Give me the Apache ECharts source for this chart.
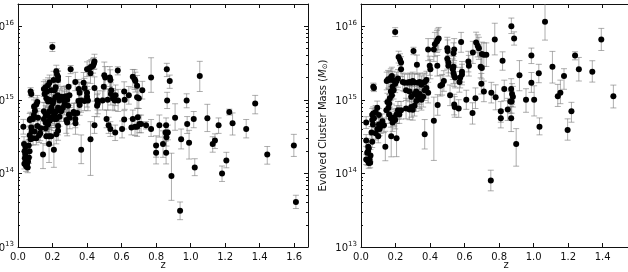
<!DOCTYPE html>
<html>
<head>
<meta charset="utf-8">
<script src="https://cdn.jsdelivr.net/npm/echarts@6/dist/echarts.min.js"></script>
<style>
html,body{margin:0;padding:0;background:#fff;overflow:hidden;}
#c{width:628px;height:272px;}
</style>
</head>
<body>
<div id="c"></div>
<script>
// ---- data: [z, mass (M_sun), error down (dex), error up (dex)] ----
const observedClusters = [
[0.199,5.2e15,0.06,0.06],[0.771,2.0e15,0.20,0.27],[0.862,2.6e15,0.10,0.08],[0.879,1.8e15,0.10,0.08],
[1.053,2.1e15,0.21,0.20],[0.864,9.8e14,0.11,0.11],[0.977,9.8e14,0.10,0.09],[0.910,5.7e14,0.17,0.19],
[1.018,5.5e14,0.12,0.10],[1.097,5.6e14,0.18,0.19],[1.224,6.8e14,0.04,0.04],[1.243,4.8e14,0.16,0.14],
[1.162,4.5e14,0.11,0.10],[1.322,4.0e14,0.12,0.13],[1.374,8.9e14,0.14,0.11],[0.980,4.7e14,0.13,0.10],
[0.819,4.5e14,0.16,0.14],[0.771,4.0e14,0.10,0.13],[0.742,4.5e14,0.05,0.05],[0.858,4.5e14,0.10,0.10],
[0.855,3.6e14,0.12,0.10],[0.868,3.6e14,0.10,0.10],[0.860,3.1e14,0.12,0.10],[0.840,2.5e14,0.18,0.18],
[0.800,2.4e14,0.16,0.13],[0.800,1.9e14,0.15,0.12],[0.858,1.9e14,0.15,0.17],[0.945,2.9e14,0.13,0.14],
[0.991,2.6e14,0.22,0.17],[0.889,9.2e13,0.33,0.31],[0.939,3.1e13,0.12,0.12],[1.024,1.2e14,0.11,0.12],
[1.128,2.5e14,0.11,0.10],[1.141,2.8e14,0.11,0.09],[1.182,1.0e14,0.11,0.10],[1.207,1.5e14,0.10,0.11],
[1.444,1.8e14,0.13,0.11],[1.598,2.4e14,0.15,0.15],[1.610,4.1e13,0.09,0.09],
[0.443,3.3e15,0.10,0.10],[0.440,3.1e15,0.08,0.08],[0.435,2.9e15,0.10,0.10],[0.425,2.8e15,0.12,0.10],
[0.415,2.7e15,0.10,0.10],[0.400,2.6e15,0.10,0.10],[0.420,2.3e15,0.14,0.12],[0.305,2.6e15,0.06,0.05],
[0.578,2.5e15,0.06,0.05],[0.500,2.15e15,0.13,0.18],[0.505,2.0e15,0.15,0.15],[0.532,2.0e15,0.12,0.15],
[0.535,1.85e15,0.16,0.14],[0.665,2.05e15,0.15,0.10],[0.675,1.9e15,0.14,0.13],[0.680,1.8e15,0.15,0.12],
[0.690,1.55e15,0.14,0.14],[0.720,1.35e15,0.12,0.12],[0.497,1.5e15,0.15,0.15],[0.443,1.45e15,0.18,0.15],
[0.615,1.3e15,0.14,0.13],[0.618,1.0e15,0.13,0.13],[0.540,1.35e15,0.14,0.14],[0.538,1.2e15,0.15,0.15],
[0.550,1.05e15,0.16,0.13],[0.565,1.15e15,0.14,0.14],[0.560,9.8e14,0.14,0.14],[0.642,1.15e15,0.12,0.12],
[0.690,1.08e15,0.15,0.15],[0.700,1.05e15,0.14,0.14],[0.460,9.8e14,0.13,0.13],[0.462,8.9e14,0.14,0.14],
[0.458,8.3e14,0.15,0.15],[0.490,9.8e14,0.13,0.13],[0.580,9.8e14,0.15,0.15],[0.520,1.0e15,0.14,0.14],
[0.405,9.8e14,0.14,0.15],[0.385,9.6e14,0.13,0.14],[0.365,9.8e14,0.16,0.16],[0.350,9.6e14,0.15,0.15],
[0.357,8.5e14,0.14,0.14],[0.343,6.6e14,0.16,0.14],[0.332,5.5e14,0.12,0.12],[0.322,6.8e14,0.12,0.12],
[0.326,6.5e14,0.14,0.14],[0.380,1.7e15,0.12,0.14],[0.385,1.45e15,0.13,0.13],[0.400,1.25e15,0.14,0.14],
[0.400,1.1e15,0.14,0.14],[0.352,1.4e15,0.13,0.13],[0.357,1.25e15,0.14,0.14],[0.332,1.75e15,0.12,0.13],
[0.293,1.5e15,0.15,0.14],[0.443,4.5e14,0.11,0.12],[0.513,5.5e14,0.12,0.12],[0.525,4.5e14,0.11,0.11],
[0.535,4.0e14,0.10,0.10],[0.563,3.6e14,0.11,0.10],[0.603,4.0e14,0.12,0.11],[0.657,4.2e14,0.10,0.12],
[0.665,5.5e14,0.14,0.12],[0.678,4.3e14,0.12,0.12],[0.694,5.8e14,0.15,0.12],[0.690,4.3e14,0.13,0.12],
[0.703,4.7e14,0.12,0.12],[0.713,4.7e14,0.12,0.12],[0.615,5.4e14,0.13,0.12],[0.420,2.9e14,0.49,0.24],
[0.366,2.1e14,0.19,0.20],[0.333,4.8e14,0.15,0.14],[0.300,5.7e14,0.15,0.14],[0.295,6.3e14,0.13,0.13],
[0.280,5.3e14,0.18,0.14],[0.285,4.9e14,0.18,0.14],
[0.031,4.3e14,0.10,0.10],[0.035,2.5e14,0.10,0.10],[0.038,2.0e14,0.08,0.08],[0.042,1.8e14,0.08,0.08],
[0.040,1.6e14,0.08,0.08],[0.045,1.45e14,0.07,0.07],[0.037,1.35e14,0.07,0.07],[0.047,1.25e14,0.07,0.07],
[0.053,1.35e14,0.07,0.07],[0.056,1.2e14,0.07,0.07],[0.048,1.55e14,0.08,0.08],[0.043,2.3e14,0.08,0.08],
[0.058,1.45e14,0.08,0.08],[0.063,1.65e14,0.08,0.08],[0.067,2.0e14,0.08,0.08],[0.062,2.4e14,0.08,0.08],
[0.068,3.3e14,0.08,0.08],[0.073,2.9e14,0.08,0.08],[0.079,3.7e14,0.08,0.08],[0.077,4.2e14,0.08,0.08],
[0.068,5.3e14,0.09,0.09],[0.072,5.5e14,0.09,0.09],[0.087,5.5e14,0.09,0.09],[0.073,1.3e15,0.05,0.05],
[0.077,1.2e15,0.05,0.05],[0.092,6.2e14,0.09,0.09],[0.098,7.1e14,0.09,0.09],[0.093,8.1e14,0.09,0.09],
[0.106,8.6e14,0.09,0.09],[0.112,9.3e14,0.09,0.09],[0.116,5.7e14,0.09,0.09],[0.112,4.4e14,0.09,0.09],
[0.096,3.7e14,0.09,0.09],[0.087,3.0e14,0.09,0.09],[0.106,3.0e14,0.09,0.09],[0.122,3.3e14,0.10,0.10],
[0.129,3.5e14,0.10,0.10],[0.131,4.1e14,0.10,0.10],[0.145,1.8e14,0.19,0.15],[0.180,2.5e14,0.25,0.22],
[0.208,2.1e14,0.24,0.26],[0.180,3.2e14,0.12,0.12],[0.192,3.2e14,0.12,0.12],[0.164,3.2e14,0.12,0.12],
[0.160,4.1e14,0.12,0.12],[0.164,4.9e14,0.12,0.12],[0.150,1.40e15,0.10,0.10],[0.160,1.48e15,0.10,0.10],
[0.168,1.30e15,0.10,0.10],[0.174,1.58e15,0.10,0.10],[0.183,1.72e15,0.10,0.10],[0.193,1.35e15,0.12,0.12],
[0.212,1.35e15,0.12,0.12],[0.218,1.48e15,0.12,0.12],[0.222,2.45e15,0.08,0.08],[0.226,2.2e15,0.08,0.08],
[0.232,2.05e15,0.08,0.08],[0.206,1.85e15,0.12,0.12],[0.232,1.85e15,0.12,0.12],[0.154,1.20e15,0.12,0.12],
[0.164,1.05e15,0.12,0.12],[0.174,9.5e14,0.12,0.12],[0.183,1.0e15,0.12,0.12],[0.193,9.5e14,0.12,0.12],
[0.202,9.0e14,0.12,0.12],[0.206,9.8e14,0.12,0.12],[0.216,1.08e15,0.12,0.12],[0.230,1.15e15,0.14,0.14],
[0.250,1.10e15,0.14,0.14],[0.260,1.05e15,0.14,0.14],[0.270,1.10e15,0.14,0.14],[0.280,1.12e15,0.14,0.14],
[0.298,1.15e15,0.14,0.14],[0.150,7.0e14,0.12,0.12],[0.160,6.3e14,0.12,0.12],[0.174,6.0e14,0.12,0.12],
[0.183,7.0e14,0.12,0.12],[0.193,7.8e14,0.12,0.12],[0.202,7.0e14,0.12,0.12],[0.212,6.3e14,0.12,0.12],
[0.222,7.0e14,0.12,0.12],[0.232,7.8e14,0.13,0.13],[0.250,7.0e14,0.14,0.14],[0.260,7.8e14,0.14,0.14],
[0.270,8.6e14,0.14,0.14],[0.290,8.3e14,0.14,0.14],[0.150,5.5e14,0.12,0.12],[0.160,4.9e14,0.12,0.12],
[0.174,4.6e14,0.12,0.12],[0.183,5.2e14,0.12,0.12],[0.193,5.5e14,0.12,0.12],[0.202,5.9e14,0.12,0.12],
[0.212,5.5e14,0.12,0.12],[0.222,5.5e14,0.12,0.12],[0.232,4.4e14,0.12,0.12],[0.222,3.4e14,0.13,0.13],
[0.232,3.8e14,0.13,0.13],[0.240,5.9e14,0.13,0.13],[0.270,9.5e14,0.14,0.14],[0.285,1.0e15,0.14,0.14],
[0.240,9.8e14,0.12,0.14]
];

const evolvedClusters = [
[0.198,8.3e15,0.06,0.06],[1.066,1.15e16,0.25,0.25],[0.871,1.0e16,0.10,0.11],[0.887,6.8e15,0.09,0.09],
[0.775,6.6e15,0.21,0.22],[1.392,6.6e15,0.15,0.15],[0.820,3.4e15,0.13,0.12],[0.918,2.15e15,0.21,0.20],
[0.987,4.0e15,0.11,0.10],[0.987,1.7e15,0.13,0.14],[1.030,2.3e15,0.13,0.12],[1.109,2.8e15,0.22,0.21],
[1.176,2.1e15,0.18,0.10],[1.240,4.0e15,0.06,0.05],[1.262,2.6e15,0.16,0.16],[1.340,2.4e15,0.14,0.15],
[1.462,1.12e15,0.16,0.15],[0.956,1.0e15,0.17,0.15],[1.003,1.0e15,0.22,0.19],[0.830,1.4e15,0.16,0.12],
[0.870,1.4e15,0.14,0.14],[0.875,1.2e15,0.14,0.14],[0.880,1.1e15,0.14,0.14],[0.865,9.5e14,0.16,0.14],
[0.873,9.5e14,0.16,0.14],[0.850,7.4e14,0.15,0.15],[0.810,7.0e14,0.15,0.13],[0.810,5.6e14,0.13,0.12],
[0.870,5.6e14,0.18,0.16],[0.780,1.08e15,0.17,0.17],[0.755,1.25e15,0.14,0.14],[0.712,1.3e15,0.14,0.14],
[0.697,1.65e15,0.14,0.14],[0.663,1.05e15,0.14,0.14],[0.610,1.0e15,0.13,0.13],[0.566,7.6e14,0.12,0.12],
[0.540,8.6e14,0.14,0.14],[0.543,8.0e14,0.14,0.14],[0.516,1.15e15,0.14,0.14],[0.570,1.75e15,0.14,0.14],
[0.646,6.6e14,0.15,0.14],[0.444,8.5e14,0.14,0.14],[0.369,3.4e14,0.20,0.20],[0.422,5.2e14,0.54,0.32],
[0.141,2.3e14,0.19,0.21],[0.175,3.2e14,0.28,0.26],[0.206,3.0e14,0.25,0.20],[0.752,8.0e13,0.14,0.14],
[0.899,2.5e14,0.30,0.21],[1.034,4.3e14,0.11,0.12],[1.197,3.9e14,0.14,0.15],[1.219,7.0e14,0.15,0.12],
[1.140,1.12e15,0.14,0.16],[1.155,1.25e15,0.15,0.17],
[0.389,4.8e15,0.15,0.15],[0.422,4.8e15,0.16,0.15],[0.428,5.7e15,0.17,0.16],[0.440,6.2e15,0.15,0.15],
[0.450,6.8e15,0.15,0.15],[0.444,6.5e15,0.15,0.15],[0.500,5.0e15,0.14,0.15],[0.502,4.6e15,0.14,0.15],
[0.540,4.8e15,0.15,0.15],[0.536,4.3e15,0.15,0.14],[0.580,6.1e15,0.14,0.13],[0.622,3.3e15,0.14,0.14],
[0.625,2.9e15,0.14,0.14],[0.648,4.4e15,0.15,0.15],[0.667,6.0e15,0.14,0.14],[0.676,5.4e15,0.15,0.15],
[0.683,5.0e15,0.15,0.15],[0.700,4.2e15,0.16,0.16],[0.712,4.1e15,0.16,0.16],[0.726,4.1e15,0.16,0.16],
[0.700,2.7e15,0.15,0.15],[0.693,2.8e15,0.15,0.15],[0.304,4.6e15,0.05,0.05],[0.218,3.8e15,0.08,0.08],
[0.226,3.5e15,0.08,0.08],[0.232,3.2e15,0.08,0.08],[0.232,2.6e15,0.10,0.10],[0.324,3.0e15,0.13,0.13],
[0.398,2.9e15,0.13,0.13],[0.402,2.6e15,0.13,0.13],[0.442,2.9e15,0.14,0.14],[0.536,2.8e15,0.14,0.14],
[0.532,2.6e15,0.14,0.14],[0.536,2.3e15,0.14,0.14],[0.540,2.1e15,0.14,0.14],[0.545,2.0e15,0.14,0.14],
[0.500,3.6e15,0.14,0.14],[0.506,3.2e15,0.14,0.14],[0.506,2.9e15,0.14,0.14],[0.585,2.4e15,0.14,0.14],
[0.585,2.2e15,0.14,0.14],[0.575,2.0e15,0.14,0.14],[0.480,1.8e15,0.14,0.14],[0.470,1.6e15,0.14,0.14],
[0.460,1.55e15,0.14,0.14],
[0.030,4.9e14,0.08,0.08],[0.030,2.8e14,0.08,0.08],[0.042,2.3e14,0.08,0.08],[0.045,2.2e14,0.08,0.08],
[0.036,1.9e14,0.08,0.08],[0.030,1.55e14,0.07,0.07],[0.038,1.5e14,0.07,0.07],[0.050,1.55e14,0.07,0.07],
[0.053,1.4e14,0.07,0.07],[0.045,1.38e14,0.07,0.07],[0.055,1.75e14,0.08,0.08],[0.041,2.0e14,0.08,0.08],
[0.065,2.7e14,0.08,0.08],[0.061,3.6e14,0.08,0.08],[0.069,4.6e14,0.09,0.09],[0.065,6.2e14,0.09,0.09],
[0.071,6.5e14,0.09,0.09],[0.075,5.6e14,0.09,0.09],[0.065,5.3e14,0.09,0.09],[0.071,1.5e15,0.05,0.05],
[0.075,1.45e15,0.05,0.05],[0.085,3.5e14,0.09,0.09],[0.094,4.0e14,0.09,0.09],[0.104,4.6e14,0.09,0.09],
[0.085,6.8e14,0.09,0.09],[0.094,7.8e14,0.09,0.09],[0.104,6.2e14,0.09,0.09],[0.124,5.1e14,0.10,0.10],
[0.114,4.4e14,0.10,0.10],[0.133,4.5e14,0.10,0.10],[0.100,3.2e14,0.09,0.09],[0.108,4.0e14,0.09,0.09],
[0.147,7.2e14,0.12,0.12],[0.159,7.8e14,0.12,0.12],[0.153,9.3e14,0.12,0.12],[0.163,8.9e14,0.12,0.12],
[0.167,1.05e15,0.12,0.12],[0.173,1.3e15,0.12,0.12],[0.179,1.15e15,0.12,0.12],[0.183,1.5e15,0.12,0.12],
[0.189,1.35e15,0.12,0.12],[0.198,1.65e15,0.12,0.12],[0.206,1.8e15,0.12,0.12],[0.214,1.95e15,0.12,0.12],
[0.149,1.8e15,0.12,0.12],[0.157,1.9e15,0.12,0.12],[0.163,1.85e15,0.12,0.12],[0.173,2.0e15,0.12,0.12],
[0.179,2.1e15,0.12,0.12],[0.183,1.85e15,0.12,0.12],[0.163,6.3e14,0.12,0.12],[0.173,5.6e14,0.12,0.12],
[0.183,4.9e14,0.12,0.12],[0.193,5.8e14,0.12,0.12],[0.198,5.3e14,0.12,0.12],[0.206,6.3e14,0.12,0.12],
[0.214,7.2e14,0.12,0.12],[0.222,6.3e14,0.12,0.12],[0.232,7.2e14,0.12,0.12],[0.242,1.75e15,0.12,0.12],
[0.252,1.7e15,0.12,0.12],[0.271,1.7e15,0.12,0.12],[0.281,1.75e15,0.12,0.12],[0.291,1.7e15,0.12,0.12],
[0.300,1.8e15,0.12,0.12],[0.310,1.72e15,0.12,0.12],[0.330,1.7e15,0.12,0.12],[0.340,1.75e15,0.12,0.12],
[0.350,1.6e15,0.12,0.12],[0.360,1.7e15,0.12,0.12],[0.370,1.75e15,0.12,0.12],[0.379,1.85e15,0.12,0.12],
[0.261,1.35e15,0.14,0.14],[0.281,1.3e15,0.14,0.14],[0.291,1.1e15,0.14,0.14],[0.310,1.2e15,0.14,0.14],
[0.320,1.3e15,0.14,0.14],[0.330,1.1e15,0.14,0.14],[0.340,1.2e15,0.14,0.14],[0.350,1.0e15,0.14,0.14],
[0.360,1.1e15,0.14,0.14],[0.369,1.35e15,0.14,0.14],[0.379,1.45e15,0.14,0.14],[0.389,1.25e15,0.14,0.14],
[0.261,7.6e14,0.14,0.14],[0.281,7.4e14,0.14,0.14],[0.291,8.0e14,0.14,0.14],[0.310,8.3e14,0.14,0.14],
[0.320,9.6e14,0.14,0.14],[0.340,1.05e15,0.14,0.14],[0.300,7.3e14,0.14,0.14]
];

const xTickValues = [0.0,0.2,0.4,0.6,0.8,1.0,1.2,1.4,1.6];
const yMajorTicks = [1e13,1e14,1e15,1e16];
const yMinorTicks = [2e13,3e13,4e13,5e13,6e13,7e13,8e13,9e13,2e14,3e14,4e14,5e14,6e14,7e14,8e14,9e14,
  2e15,3e15,4e15,5e15,6e15,7e15,8e15,9e15];
const xMax = 1.68, yMin = 1e13, yMax = 2e16;
const xTitle = 'z';
const yTitle = 'Evolved Cluster Mass ({i|M}{o|⊙})';

const FONT = 'DejaVu Sans';
const chart = echarts.init(document.getElementById('c'), null, {renderer:'canvas'});

const grids = [
  {left:18, top:4, width:290, height:243, containLabel:false, outerBoundsMode:'none'},
  {left:361, top:4, width:290, height:243, containLabel:false, outerBoundsMode:'none'}
];

const xAxes = [], yAxes = [], series = [];
const mainY = [];
const axisLine = {show:true, lineStyle:{color:'#111', width:1}};

grids.forEach((g, gi) => {
  xAxes.push({
    gridIndex:gi, type:'value', position:'bottom', min:0, max:xMax,
    axisLine, splitLine:{show:false},
    axisTick:{show:true, inside:true, length:4, lineStyle:{color:'#111'}, customValues:xTickValues},
    axisLabel:{customValues:xTickValues, formatter:v=>v.toFixed(1), fontFamily:FONT, fontSize:10, color:'#111', margin:5},
    name:xTitle, nameLocation:'middle', nameGap:13, nameMoveOverlap:false,
    nameTextStyle:{fontFamily:FONT, fontSize:10, color:'#111'}
  });
  xAxes.push({
    gridIndex:gi, type:'value', position:'top', min:0, max:xMax,
    axisLine, splitLine:{show:false}, axisLabel:{show:false},
    axisTick:{show:true, inside:true, length:4, lineStyle:{color:'#111'}, customValues:xTickValues}
  });
  const base = {gridIndex:gi, type:'log', logBase:10, min:yMin, max:yMax, splitLine:{show:false}};
  mainY.push(yAxes.length);
  yAxes.push(Object.assign({}, base, {
    position:'left', axisLine,
    axisTick:{show:true, inside:true, length:4, lineStyle:{color:'#111'}, customValues:yMajorTicks},
    axisLabel:{customValues:yMajorTicks, margin:4, fontFamily:FONT, color:'#111',
      formatter:v=>'{b|10}{s|' + Math.round(Math.log10(v)) + '}',
      rich:{b:{fontFamily:FONT, fontSize:10, color:'#111', verticalAlign:'bottom'},
            s:{fontFamily:FONT, fontSize:7, color:'#111', verticalAlign:'bottom', padding:[0,0,6,0]}}},
    name:yTitle, nameLocation:'middle', nameRotate:90, nameGap:32, nameMoveOverlap:false,
    nameTextStyle:{fontFamily:FONT, fontSize:10, color:'#111',
      rich:{i:{fontFamily:FONT, fontSize:10, fontStyle:'italic', color:'#111'},
            o:{fontFamily:FONT, fontSize:7, color:'#111', padding:[4,0,0,0]}}}
  }));
  yAxes.push(Object.assign({}, base, {
    position:'left', axisLine:{show:false}, axisLabel:{show:false},
    axisTick:{show:true, inside:true, length:2, lineStyle:{color:'#111'}, customValues:yMinorTicks}
  }));
  // right spine: only the first panel's lies inside the picture
  if (gi === 0) {
    yAxes.push(Object.assign({}, base, {
      position:'right', axisLine, axisLabel:{show:false},
      axisTick:{show:true, inside:true, length:4, lineStyle:{color:'#111'}, customValues:yMajorTicks}
    }));
    yAxes.push(Object.assign({}, base, {
      position:'right', axisLine:{show:false}, axisLabel:{show:false},
      axisTick:{show:true, inside:true, length:2, lineStyle:{color:'#111'}, customValues:yMinorTicks}
    }));
  }
});

function renderErr(params, api) {
  const x = api.value(0), lo = api.value(1), hi = api.value(2);
  const p1 = api.coord([x, hi]), p2 = api.coord([x, lo]);
  const w = 3;
  const style = {stroke:'rgba(120,120,120,0.6)', lineWidth:1, fill:null};
  return {type:'group', children:[
    {type:'line', shape:{x1:p1[0], y1:p1[1], x2:p2[0], y2:p2[1]}, style},
    {type:'line', shape:{x1:p1[0]-w, y1:p1[1], x2:p1[0]+w, y2:p1[1]}, style},
    {type:'line', shape:{x1:p2[0]-w, y1:p2[1], x2:p2[0]+w, y2:p2[1]}, style}
  ]};
}

[observedClusters, evolvedClusters].forEach((rows, gi) => {
  const errData = rows.map(r => [r[0], r[1] / Math.pow(10, r[2]), r[1] * Math.pow(10, r[3])]);
  const ptData = rows.map(r => [r[0], r[1]]);
  series.push({
    type:'custom', xAxisIndex:gi*2, yAxisIndex:mainY[gi], renderItem:renderErr,
    encode:{x:0, y:[1,2]}, data:errData, clip:true, silent:true, z:2, animation:false
  });
  series.push({
    type:'scatter', xAxisIndex:gi*2, yAxisIndex:mainY[gi], data:ptData,
    symbol:'circle', symbolSize:6, itemStyle:{color:'#000', opacity:1}, clip:true, z:3, animation:false
  });
});

chart.setOption({
  animation:false,
  backgroundColor:'#fff',
  grid:grids,
  xAxis:xAxes,
  yAxis:yAxes,
  series
});
</script>
</body>
</html>
